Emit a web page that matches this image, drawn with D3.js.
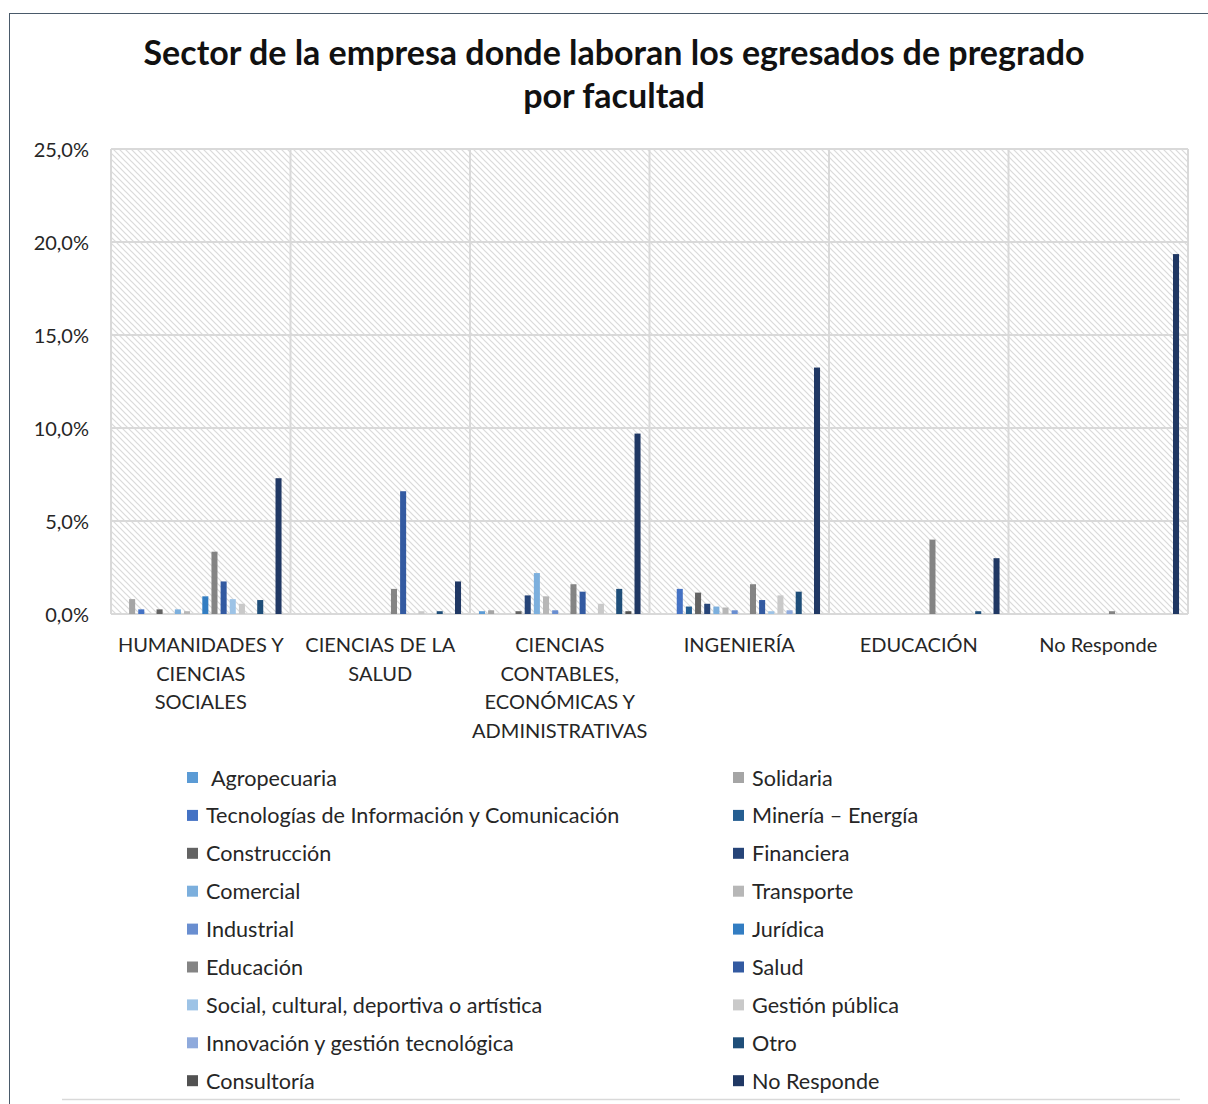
<!DOCTYPE html>
<html><head><meta charset="utf-8">
<script src="https://cdn.jsdelivr.net/npm/d3@7"></script>
<style>
html,body{margin:0;padding:0;background:#fff;}
svg{display:block;font-family:Lato,"Open Sans",sans-serif;}
</style></head><body>
<svg id="chart" width="1208" height="1104"></svg>
<script>
// ---------- data ----------
const titleLines = ["Sector de la empresa donde laboran los egresados de pregrado", "por facultad"];
const categories = ["HUMANIDADES Y CIENCIAS SOCIALES", "CIENCIAS DE LA SALUD", "CIENCIAS CONTABLES, ECONÓMICAS Y ADMINISTRATIVAS", "INGENIERÍA", "EDUCACIÓN", "No Responde"];
const categoryLabelLines = [
  ["HUMANIDADES Y", "CIENCIAS", "SOCIALES"],
  ["CIENCIAS DE LA", "SALUD"],
  ["CIENCIAS", "CONTABLES,", "ECONÓMICAS Y", "ADMINISTRATIVAS"],
  ["INGENIERÍA"],
  ["EDUCACIÓN"],
  ["No Responde"]
];
const seriesNames = ["Agropecuaria", "Solidaria", "Tecnologías de Información y Comunicación", "Minería – Energía", "Construcción", "Financiera", "Comercial", "Transporte", "Industrial", "Jurídica", "Educación", "Salud", "Social, cultural, deportiva o artística", "Gestión pública", "Innovación y gestión tecnológica", "Otro", "Consultoría", "No Responde"];
const seriesColors = ["#5B9BD5", "#A5A5A5", "#4472C4", "#255E91", "#636363", "#264478", "#7CAFDD", "#B7B7B7", "#698ED0", "#327DC2", "#848484", "#335AA1", "#9DC3E6", "#C9C9C9", "#8FAADC", "#1F4E79", "#525252", "#203864"];
// values in % per category (same order as categories)
const agropecuaria   = [0,    0,    0.15, 0,    0,    0];
const solidaria      = [0.8,  0,    0.2,  0,    0,    0];
const tecnologias    = [0.25, 0,    0,    1.35, 0,    0];
const mineria        = [0,    0,    0,    0.4,  0,    0];
const construccion   = [0.25, 0,    0.15, 1.15, 0,    0];
const financiera     = [0,    0,    1.0,  0.55, 0,    0];
const comercial      = [0.25, 0,    2.2,  0.4,  0,    0];
const transporte     = [0.15, 0,    0.95, 0.35, 0,    0];
const industrial     = [0,    0,    0.2,  0.2,  0,    0];
const juridica       = [0.95, 0,    0,    0,    0,    0];
const educacion      = [3.35, 1.35, 1.6,  1.6,  4.0,  0.15];
const salud          = [1.75, 6.6,  1.2,  0.75, 0,    0];
const social         = [0.8,  0,    0,    0.15, 0,    0];
const gestionPublica = [0.55, 0.15, 0.55, 1.0,  0,    0];
const innovacion     = [0,    0,    0,    0.2,  0,    0];
const otro           = [0.75, 0.15, 1.35, 1.2,  0.15, 0];
const consultoria    = [0,    0,    0.15, 0,    0,    0];
const noResponde     = [7.3,  1.75, 9.7,  13.25, 3.0, 19.35];
const seriesValues = [agropecuaria, solidaria, tecnologias, mineria, construccion, financiera, comercial, transporte, industrial, juridica, educacion, salud, social, gestionPublica, innovacion, otro, consultoria, noResponde];
const yTicks = [0, 5, 10, 15, 20, 25];

// ---------- layout ----------
const svg = d3.select("#chart");
const W = 1208, H = 1104;
const plot = {left: 111, right: 1188, top: 149, bottom: 614};

svg.append("rect").attr("x", 0).attr("y", 0).attr("width", W).attr("height", H).attr("fill", "#fff");
// outer chart border
svg.append("rect").attr("x", 9.5).attr("y", 13.5).attr("width", 1210).attr("height", 1110)
  .attr("fill", "none").attr("stroke", "#4a5a6a").attr("stroke-width", 1);

// hatch pattern
const defs = svg.append("defs");
const pat = defs.append("pattern").attr("id", "hatch").attr("patternUnits", "userSpaceOnUse")
  .attr("width", 6).attr("height", 6);
pat.append("rect").attr("width", 6).attr("height", 6).attr("fill", "#fff");
pat.append("path").attr("d", "M0,0 L6,6 M-3,3 L3,9 M3,-3 L9,3")
  .attr("stroke", "#dadada").attr("stroke-width", 1.2);

// title
const title = svg.append("text").attr("text-anchor", "middle").attr("font-weight", "bold")
  .attr("font-size", 34).attr("fill", "#111");
titleLines.forEach((t, i) => title.append("tspan").attr("x", 614).attr("y", 65 + i * 43).text(t));

// scales
const x0 = d3.scaleBand().domain(categories).range([plot.left, plot.right]).padding(0);
const x1 = d3.scaleBand().domain(seriesNames).range([7.4, x0.bandwidth() - 7.4]).paddingInner(0.34).paddingOuter(0.17);
const y = d3.scaleLinear().domain([0, 25]).range([plot.bottom, plot.top]);

// plot background
svg.append("rect").attr("x", plot.left).attr("y", plot.top)
  .attr("width", plot.right - plot.left).attr("height", plot.bottom - plot.top)
  .attr("fill", "url(#hatch)");

// gridlines
const grid = svg.append("g").attr("stroke", "#d9d9d9").attr("stroke-width", 2);
yTicks.forEach(t => grid.append("line").attr("x1", plot.left).attr("x2", plot.right)
  .attr("y1", y(t)).attr("y2", y(t)));
categories.forEach((c, i) => {
  grid.append("line").attr("x1", x0(c)).attr("x2", x0(c)).attr("y1", plot.top).attr("y2", plot.bottom);
});
grid.append("line").attr("x1", plot.right).attr("x2", plot.right).attr("y1", plot.top).attr("y2", plot.bottom);

// bars
const groups = svg.append("g").selectAll("g").data(categories).join("g")
  .attr("transform", d => `translate(${x0(d)},0)`);
groups.selectAll("rect")
  .data((c, ci) => seriesNames.map((s, si) => ({s, si, v: seriesValues[si][ci]})).filter(d => d.v > 0))
  .join("rect")
  .attr("x", d => x1(d.s))
  .attr("width", x1.bandwidth())
  .attr("y", d => y(d.v))
  .attr("height", d => y(0) - y(d.v))
  .attr("fill", d => seriesColors[d.si]);

// y axis
const loc = d3.formatLocale({decimal: ",", thousands: ".", grouping: [3], currency: ["", "€"]});
const f1 = loc.format(".1f");
const yAxis = d3.axisLeft(y).tickValues(yTicks).tickSize(0).tickPadding(0).tickFormat(d => f1(d) + "%");
const yg = svg.append("g").attr("transform", `translate(89,0)`).call(yAxis);
yg.select(".domain").remove();
yg.selectAll("text").attr("font-size", 20).attr("fill", "#262626").attr("font-family", "Lato, sans-serif").attr("dy", "0.35em");

// x axis
const xAxis = d3.axisBottom(x0).tickSize(0).tickPadding(0);
const xg = svg.append("g").attr("transform", `translate(0,${plot.bottom})`).call(xAxis);
xg.select(".domain").remove();
xg.selectAll(".tick text").each(function(d, i) {
  const t = d3.select(this).text(null).attr("font-size", 20).attr("fill", "#262626")
    .attr("font-family", "Lato, sans-serif").attr("y", 0).attr("dy", null);
  categoryLabelLines[i].forEach((ln, k) => t.append("tspan").attr("x", 0).attr("y", 38 + k * 28.7).text(ln));
});

// legend
const legend = svg.append("g");
seriesNames.forEach((s, i) => {
  const col = i % 2, row = Math.floor(i / 2);
  const lx = col === 0 ? 187 : 733;
  const ly = 778 + row * 37.9;
  legend.append("rect").attr("x", lx).attr("y", ly - 6).attr("width", 11).attr("height", 11)
    .attr("fill", seriesColors[i]);
  legend.append("text").attr("x", lx + (i === 0 ? 24 : 19)).attr("y", ly + 7.5)
    .attr("font-size", 21.6).attr("fill", "#262626").text(s);
});
svg.append("line").attr("x1", 62).attr("x2", 1180).attr("y1", 1099.5).attr("y2", 1099.5)
  .attr("stroke", "#d9d9d9").attr("stroke-width", 1.5);
</script>
</body></html>
